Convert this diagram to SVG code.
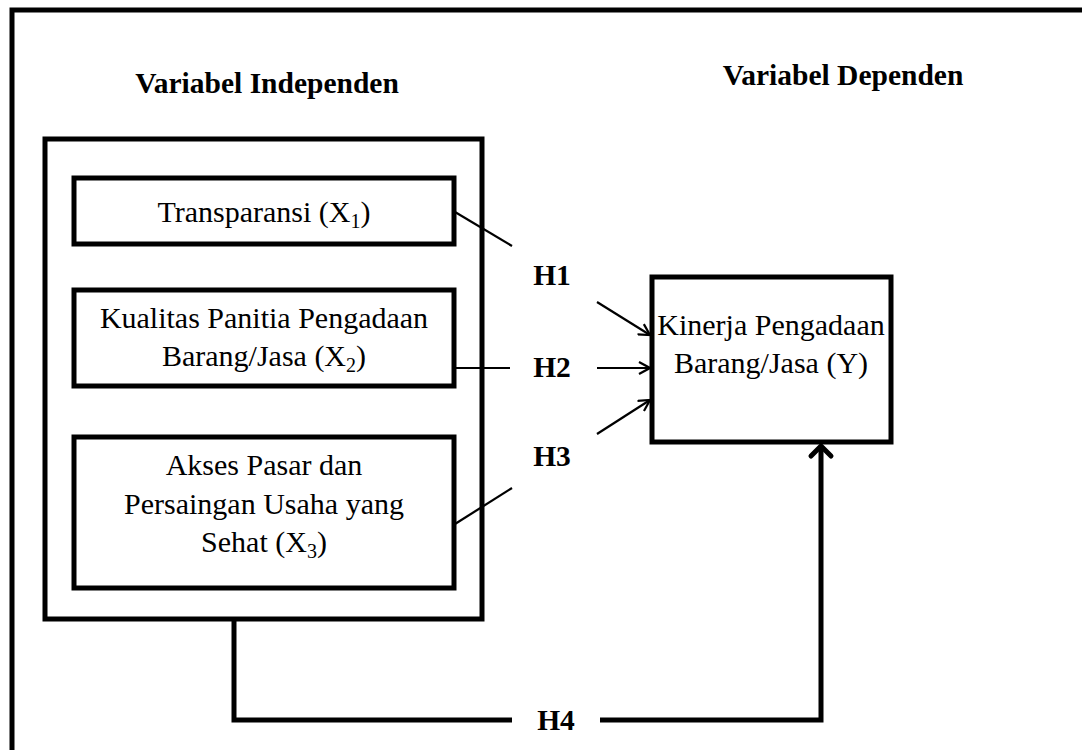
<svg xmlns="http://www.w3.org/2000/svg" width="1082" height="750" viewBox="0 0 1082 750">
<style>
.box{fill:#fff;stroke:#000;stroke-width:5}
.frame{fill:none;stroke:#000;stroke-width:5}
.t{font-family:"Liberation Serif","Times New Roman",serif;font-size:30px;fill:#000;text-anchor:middle}
.b{font-family:"Liberation Serif","Times New Roman",serif;font-size:29.5px;font-weight:bold;fill:#000;text-anchor:middle}
.thin{fill:none;stroke:#000;stroke-width:2.2}
.thick{fill:none;stroke:#000;stroke-width:5}
</style>
<defs>
<marker id="open" markerWidth="14" markerHeight="14" refX="12" refY="7" orient="auto" markerUnits="userSpaceOnUse" viewBox="0 0 14 14">
<path d="M1,1 L12,7 L1,13" fill="none" stroke="#000" stroke-width="2.2"/>
</marker>
<marker id="thickhead" markerWidth="30" markerHeight="30" refX="14" refY="15" orient="auto" markerUnits="userSpaceOnUse" viewBox="0 0 30 30">
<path d="M4,5 L14,15 L4,25" fill="none" stroke="#000" stroke-width="5" stroke-linecap="round" stroke-linejoin="round"/>
</marker>
</defs>
<rect x="0" y="0" width="1082" height="750" fill="#fff"/>
<rect class="frame" x="12" y="10" width="1100" height="780"/>
<text class="b" x="267" y="93">Variabel Independen</text>
<text class="b" x="843" y="85">Variabel Dependen</text>
<g id="independen">
<rect class="box" x="45" y="139" width="437" height="480"/>
</g>
<g id="x1">
<rect class="box" x="74" y="178" width="380" height="66"/>
<text class="t" x="264" y="222">Transparansi (X<tspan font-size="20" dy="6">1</tspan><tspan dy="-6">)</tspan></text>
</g>
<g id="x2">
<rect class="box" x="74" y="290" width="380" height="96"/>
<text class="t" x="264" y="328">Kualitas Panitia Pengadaan</text>
<text class="t" x="264" y="366">Barang/Jasa (X<tspan font-size="20" dy="6">2</tspan><tspan dy="-6">)</tspan></text>
</g>
<g id="x3">
<rect class="box" x="74" y="437" width="380" height="151"/>
<text class="t" x="264" y="475">Akses Pasar dan</text>
<text class="t" x="264" y="514">Persaingan Usaha yang</text>
<text class="t" x="264" y="552">Sehat (X<tspan font-size="20" dy="6">3</tspan><tspan dy="-6">)</tspan></text>
</g>
<g id="y">
<rect class="box" x="652" y="277" width="239" height="165"/>
<text class="t" x="771" y="335">Kinerja Pengadaan</text>
<text class="t" x="771" y="373">Barang/Jasa (Y)</text>
</g>
<g id="connectors">
<line class="thin" x1="455" y1="212" x2="512" y2="246"/>
<line class="thin" x1="597" y1="302" x2="650" y2="335" marker-end="url(#open)"/>
<line class="thin" x1="455" y1="368" x2="510" y2="368"/>
<line class="thin" x1="597" y1="368" x2="650" y2="368" marker-end="url(#open)"/>
<line class="thin" x1="455" y1="524" x2="512" y2="488"/>
<line class="thin" x1="597" y1="434" x2="650" y2="400" marker-end="url(#open)"/>
<polyline class="thick" points="234,619 234,720 512,720"/>
<polyline class="thick" points="600,720 821,720 821,446" marker-end="url(#thickhead)"/>
</g>
<g id="labels">
<text class="b" x="552" y="285">H1</text>
<text class="b" x="552" y="377">H2</text>
<text class="b" x="552" y="466">H3</text>
<text class="b" x="556" y="730">H4</text>
</g>
</svg>
